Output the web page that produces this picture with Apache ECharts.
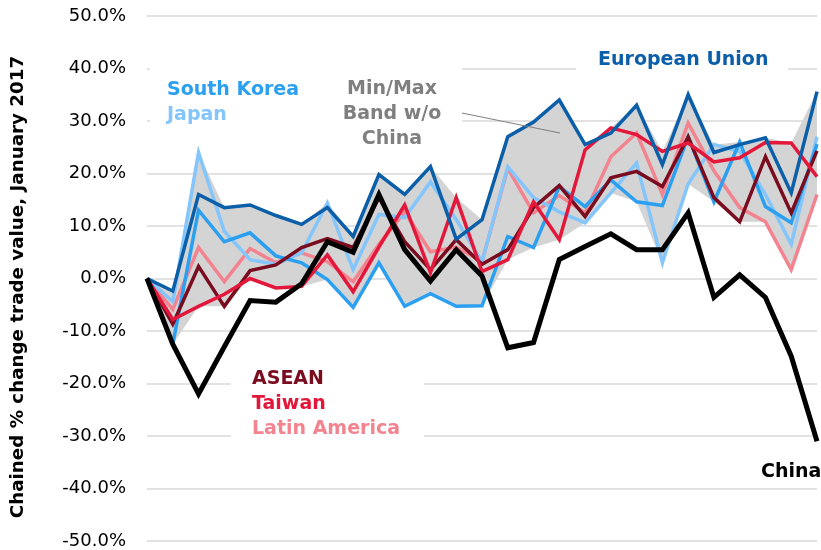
<!DOCTYPE html>
<html>
<head>
<meta charset="utf-8">
<script src="https://cdn.jsdelivr.net/npm/echarts@6/dist/echarts.min.js"></script>
<style>
  html, body { margin: 0; padding: 0; background: #fff; }
  #chart { width: 821px; height: 550px; }
</style>
</head>
<body>
<div id="chart"></div>
<script>
// monthly points, Jan 2017 .. Mar 2019
const months = ['2017-01','2017-02','2017-03','2017-04','2017-05','2017-06','2017-07','2017-08','2017-09','2017-10','2017-11','2017-12',
  '2018-01','2018-02','2018-03','2018-04','2018-05','2018-06','2018-07','2018-08','2018-09','2018-10','2018-11','2018-12',
  '2019-01','2019-02','2019-03']

// chained % change in trade value
const euValues = [0, -2.4, 16, 13.5, 14, 12, 10.3, 13.5, 8, 19.8, 16, 21.3, 7.5, 11.2, 27, 29.8, 34, 25.5, 27.7, 33, 21.7, 35, 24, 25.5, 26.8, 16.3, 35.6]
const koreaValues = [0, -12.5, 13, 7, 8.7, 4.3, 3, -0.2, -5.5, 3, -5.3, -2.9, -5.3, -5.2, 8, 5.9, 17.5, 13.7, 18.8, 14.6, 13.9, 27, 14.6, 26, 13.7, 10.6, 25.6]
const japanValues = [0, -4.4, 24, 9, 3.6, 2.7, 4.9, 14.4, 1.7, 12.2, 11.6, 18.4, 11.2, 3.2, 21.3, 15.4, 12.7, 10.6, 16.3, 22, 3, 18, 25.5, 24.2, 16, 6.5, 27]
const aseanValues = [0, -8.7, 2.3, -5.3, 1.5, 2.6, 5.9, 7.6, 5.9, 15.4, 7, 1.7, 7.4, 2.7, 5.5, 13.5, 17.7, 11.8, 19.2, 20.4, 17.5, 27, 15.4, 10.8, 23.2, 12.5, 24.3]
const taiwanValues = [0, -7.8, -5.3, -3, 0, -1.8, -1.5, 4.5, -2.5, 6, 14, 1.1, 15.4, 1.3, 3.6, 14.6, 7.4, 24.5, 28.7, 27.4, 24.2, 25.8, 22.2, 23, 25.9, 25.8, 19.4]
const latamValues = [0, -5.9, 5.9, -0.6, 5.7, 3, 4.9, 3.2, -0.6, 6.5, 12.7, 5.1, 6, 3.2, 21, 12.5, 15.8, 12.5, 23.2, 27.7, 16, 29.6, 20.5, 13.5, 10.8, 1.7, 16]
const chinaValues = [0, -12.5, -22, -13, -4.2, -4.5, -1, 7, 5, 16, 5.5, -0.5, 5.5, 0.5, -13.2, -12.2, 3.6, 6.1, 8.5, 5.5, 5.5, 12.5, -3.6, 0.7, -3.6, -14.8, -31]

const yTicks = [-50, -40, -30, -20, -10, 0, 10, 20, 30, 40, 50]

// min/max band of everything except China
const bandSeries = [euValues, koreaValues, japanValues, aseanValues, taiwanValues, latamValues]
const bandMin = months.map((m, i) => Math.min(...bandSeries.map(s => s[i])))
const bandSpan = months.map((m, i) => Math.max(...bandSeries.map(s => s[i])) - bandMin[i])

const font = '"DejaVu Sans", Verdana, sans-serif'

function lineSeries(name, data, color, width) {
  return {
    name: name,
    type: 'line',
    data: data,
    symbol: 'none',
    z: 3,
    lineStyle: { color: color, width: width, join: 'miter' },
    emphasis: { disabled: true }
  }
}

// white box that hides the gridlines behind a label
function blank(x, y, w, h) {
  return { type: 'rect', z: 1, shape: { x: x, y: y, width: w, height: h }, style: { fill: '#fff' } }
}

function label(text, x, y, color, align) {
  return {
    type: 'text',
    x: x,
    y: y,
    z: 1,
    style: {
      text: text,
      fill: color,
      font: 'bold 19px ' + font,
      align: align || 'left',
      lineHeight: 25
    }
  }
}

var myChart = echarts.init(document.getElementById('chart'))
let option = {
  animation: false,
  grid: { left: 147, right: 4, top: 16, bottom: 8 },
  xAxis: {
    type: 'category',
    boundaryGap: false,
    data: months,
    axisLine: { show: false },
    axisTick: { show: false },
    axisLabel: { show: false },
    splitLine: { show: false }
  },
  yAxis: {
    type: 'value',
    min: yTicks[0],
    max: yTicks[yTicks.length - 1],
    interval: 10,
    name: 'Chained % change trade value, January 2017',
    nameLocation: 'middle',
    nameGap: 120,
    nameTextStyle: { fontFamily: font, fontWeight: 'bold', fontSize: 18.3, color: '#000', padding: [0, 17, 0, 0] },
    axisLine: { show: false },
    axisTick: { show: false },
    axisLabel: {
      margin: 21,
      fontFamily: font,
      fontSize: 18,
      color: '#000',
      formatter: v => v.toFixed(1) + '%'
    },
    splitLine: { lineStyle: { color: '#d9d9d9', width: 1.5 } }
  },
  graphic: [
    blank(150, 58, 170, 72),
    blank(320, 58, 142, 92),
    blank(576, 44, 212, 30),
    blank(231, 362, 193, 82),
    blank(755, 457, 66, 26),
    label('South Korea', 167, 78, '#2b9ff0'),
    label('Japan', 167, 103, '#84c6fb'),
    label('Min/Max\nBand w/o\nChina', 392, 77, '#7f7f7f', 'center'),
    { type: 'line', z: 4, shape: { x1: 462, y1: 113, x2: 560, y2: 133 }, style: { stroke: '#7f7f7f', lineWidth: 1 } },
    label('European Union', 598, 48, '#0b5ea8'),
    label('ASEAN', 252, 367, '#7a0c1f'),
    label('Taiwan', 252, 392, '#e3173a'),
    label('Latin America', 252, 417, '#f2838f'),
    label('China', 761, 460, '#000')
  ],
  series: [
    {
      name: 'bandBase',
      type: 'line',
      data: bandMin,
      stack: 'band',
      stackStrategy: 'all',
      symbol: 'none',
      lineStyle: { opacity: 0 },
      z: 2,
      emphasis: { disabled: true }
    },
    {
      name: 'Min/Max Band w/o China',
      type: 'line',
      data: bandSpan,
      stack: 'band',
      stackStrategy: 'all',
      symbol: 'none',
      lineStyle: { opacity: 0 },
      areaStyle: { color: '#d4d4d4', opacity: 1 },
      z: 2,
      emphasis: { disabled: true }
    },
    lineSeries('Latin America', latamValues, '#f2838f', 3.5),
    lineSeries('Japan', japanValues, '#84c6fb', 3.5),
    lineSeries('South Korea', koreaValues, '#2b9ff0', 3.5),
    lineSeries('ASEAN', aseanValues, '#7a0c1f', 3.5),
    lineSeries('Taiwan', taiwanValues, '#e3173a', 3.5),
    lineSeries('European Union', euValues, '#0b5ea8', 3.5),
    lineSeries('China', chinaValues, '#000', 5)
  ]
}
myChart.setOption(option)
</script>
</body>
</html>
